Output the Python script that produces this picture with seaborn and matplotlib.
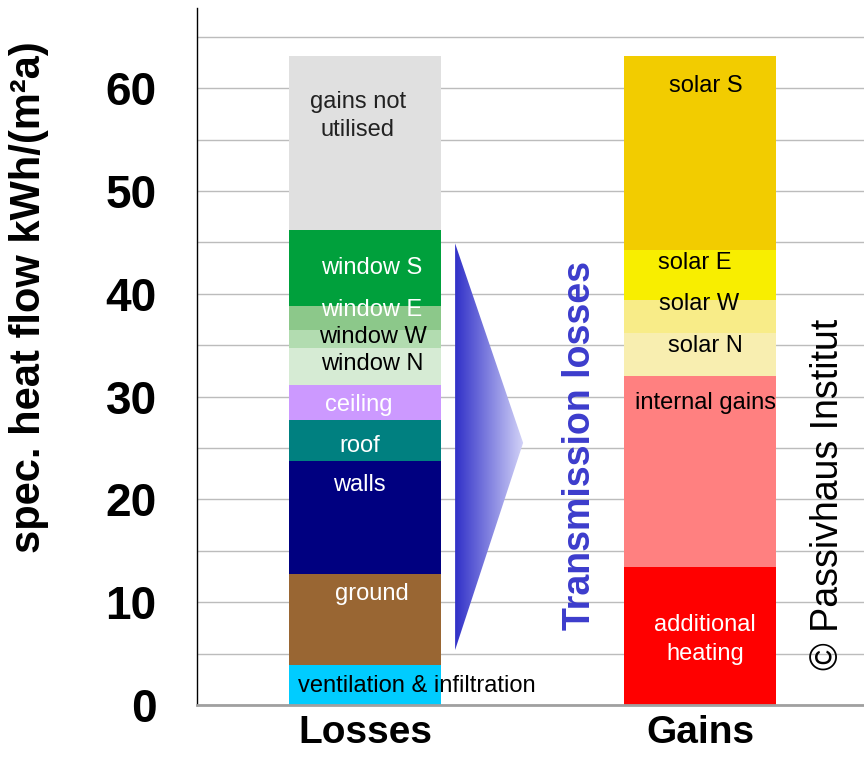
import numpy as np
import matplotlib
matplotlib.use("Agg")
import matplotlib.pyplot as plt
from matplotlib.colors import LinearSegmentedColormap
from matplotlib.patches import Polygon
import seaborn as sns

# values, kWh/(m²a), bottom to top
sides = ["Losses", "Gains"]

loss_names = ["ventilation & infiltration", "ground", "walls", "roof", "ceiling",
              "window N", "window W", "window E", "window S", "gains not\nutilised"]
loss_values = [3.9, 8.8, 11.0, 4.0, 3.4, 3.6, 1.8, 2.3, 7.4, 16.9]
loss_colors = ["#00ccff", "#996633", "#000080", "#008080", "#cc99ff",
               "#d6ebd4", "#b2dcb0", "#8cc88a", "#00a03c", "#e0e0e0"]
loss_text = ["black", "white", "white", "white", "white",
             "black", "black", "white", "white", "#222222"]

gain_names = ["additional\nheating", "internal gains", "solar N", "solar W", "solar E", "solar S"]
gain_values = [13.4, 18.6, 4.2, 3.2, 4.9, 18.8]
gain_colors = ["#ff0000", "#ff8080", "#f8eeb0", "#f8ec88", "#f8ee00", "#f2cc00"]
gain_text = ["white", "black", "black", "black", "black", "black"]

# label anchor points (x offset from bar centre, y in data units)
loss_label_pos = [(-0.2, 1.85), (0.021, 10.8), (-0.018, 21.4), (-0.015, 25.2), (-0.018, 29.2),
                  (0.021, 33.2), (0.024, 35.8), (0.021, 38.4), (0.021, 42.5), (-0.021, 57.3)]
gain_label_pos = [(0.015, 6.4), (0.015, 29.4), (0.015, 34.9), (-0.003, 39.0), (-0.015, 43.0), (0.018, 60.2)]

sns.set_style("white")
plt.rcParams["font.family"] = ["Liberation Sans", "DejaVu Sans"]

fig = plt.figure(figsize=(8.64, 7.57), dpi=100)
ax = fig.add_axes([197 / 864, 52 / 757, 667 / 864, 697 / 757])

bar_w = 0.454

# stacked bars: draw cumulative heights from the top down so the smaller ones sit in front
for side, vals, cols in [("Losses", loss_values, loss_colors), ("Gains", gain_values, gain_colors)]:
    tops = np.cumsum(vals)
    for top, col in reversed(list(zip(tops, cols))):
        sns.barplot(x=[side], y=[top], order=sides, color=col, saturation=1,
                    width=bar_w, linewidth=0, ax=ax)

# segment labels
for i, side in enumerate(sides):
    if side == "Losses":
        names, pos, tcol = loss_names, loss_label_pos, loss_text
    else:
        names, pos, tcol = gain_names, gain_label_pos, gain_text
    for name, (dx, y), c in zip(names, pos, tcol):
        ha = "left" if name.startswith("ventilation") else "center"
        ax.text(i + dx, y, name, ha=ha, va="center", fontsize=17, color=c,
                linespacing=1.4, zorder=5)

# gradient arrow for the transmission losses
arrow = [(0.269, 44.9), (0.472, 25.5), (0.269, 5.35)]
cmap = LinearSegmentedColormap.from_list("arr", ["#3030c8", "#d4d4f8"])
grad = np.linspace(0, 1, 256).reshape(1, -1)
img = ax.imshow(grad, cmap=cmap, extent=[0.269, 0.472, 5.35, 44.9],
                aspect="auto", zorder=3, interpolation="bilinear")
poly = Polygon(arrow, closed=True, transform=ax.transData, facecolor="none", edgecolor="none")
ax.add_patch(poly)
img.set_clip_path(poly)

ax.text(0.642, 25.2, "Transmission losses", rotation=90, ha="center", va="center",
        fontsize=27, fontweight="bold", color="#3c3ccc")
ax.text(1.382, 20.5, "© Passivhaus Institut", rotation=90, ha="center", va="center",
        fontsize=27, color="black")

ax.set_xlim(-0.5015, 1.4896)
ax.set_ylim(0, 67.8)
ax.set_yticks(np.arange(0, 61, 10))
ax.set_yticks(np.arange(5, 66, 5), minor=True)
ax.grid(axis="y", which="both", color="#bcbcbc", lw=1)
ax.set_axisbelow(True)

ax.tick_params(axis="y", which="major", direction="inout", length=14, width=1,
               color="black", labelcolor="black", pad=22, labelsize=33)
ax.tick_params(axis="y", which="minor", length=0)
ax.tick_params(axis="x", length=0, pad=7, labelsize=28, labelcolor="black")
for lab in ax.get_yticklabels() + ax.get_xticklabels():
    lab.set_fontweight("bold")
ax.set_xlabel("")
ax.set_ylabel("spec. heat flow kWh/(m²a)", fontsize=30, fontweight="bold", color="black")
ax.yaxis.set_label_coords(-0.222, 0.585)

for s in ["top", "right"]:
    ax.spines[s].set_visible(False)
ax.spines["left"].set_color("black")
ax.spines["left"].set_linewidth(1)
ax.spines["bottom"].set_color("#a0a0a0")
ax.spines["bottom"].set_linewidth(2)

fig.savefig("out.png", dpi=100)
